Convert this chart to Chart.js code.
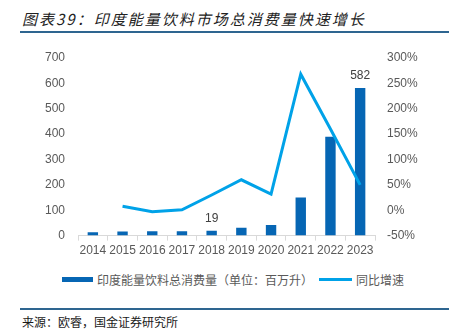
<!DOCTYPE html>
<html lang="zh">
<head>
<meta charset="UTF-8">
<title>印度能量饮料市场总消费量</title>
<script src="https://cdn.jsdelivr.net/npm/chart.js"></script>
<style>
  body { margin: 0; width: 449px; height: 332px; background: #fff; position: relative; overflow: hidden;
         font-family: "Liberation Sans", "Noto Sans CJK SC", sans-serif; text-spacing-trim: space-all; }
  .title { position: absolute; left: 22px; top: 8px; font-size: 15px; font-style: italic; letter-spacing: 2px;
           color: #222; font-family: "Noto Sans CJK SC", sans-serif; white-space: nowrap; }
  .rule { position: absolute; left: 20px; right: 0; height: 1.5px; background: #2e6590; }
  .source { position: absolute; left: 22px; top: 313px; font-size: 12px; color: #1a1a1a;
            font-family: "Noto Sans CJK SC", sans-serif; white-space: nowrap; }
  .wrap { position: absolute; left: 0; top: 36px; width: 449px; height: 231px; }
  .legend { position: absolute; left: 62px; top: 270px; height: 18px; display: flex; align-items: center;
            font-family: "Noto Sans CJK SC", sans-serif; font-size: 12px; color: #595959; white-space: nowrap; }
  .legend .sw { display: inline-block; margin-right: 4px; }
  .legend .txt { margin-right: 6px; }
</style>
</head>
<body>
<div class="title">图表39：印度能量饮料市场总消费量快速增长</div>
<div class="rule" style="top:31px"></div>
<div class="wrap"><canvas id="chart"></canvas></div>
<div class="legend" id="legend"></div>
<div class="rule" style="top:308px"></div>
<div class="source">来源：欧睿，国金证券研究所</div>
<script>
const years = ['2014', '2015', '2016', '2017', '2018', '2019', '2020', '2021', '2022', '2023'];
const consumption = [13, 16, 17, 17, 19, 31, 42, 150, 390, 582];
const growth = [null, 8, -3, 1, 30, 60, 32, 268, 160, 50];
const labelIdx = [4, 9];

const barColor = '#0666b4';
const lineColor = '#00a2e8';

const barLabels = {
  id: 'barLabels',
  afterDatasetsDraw(chart) {
    const meta = chart.getDatasetMeta(0);
    const ctx = chart.ctx;
    ctx.save();
    ctx.font = '12px "Liberation Sans", Arial, sans-serif';
    ctx.fillStyle = '#404040';
    ctx.textAlign = 'center';
    ctx.textBaseline = 'bottom';
    labelIdx.forEach(i => {
      const bar = meta.data[i];
      ctx.fillText(String(consumption[i]), bar.x, bar.y - 6);
    });
    ctx.restore();
  }
};

const chart = new Chart(document.getElementById('chart').getContext('2d'), {
  type: 'bar',
  data: {
    labels: years,
    datasets: [
      {
        type: 'bar',
        label: '印度能量饮料总消费量（单位：百万升）',
        data: consumption,
        backgroundColor: barColor,
        yAxisID: 'y',
        barPercentage: 0.35,
        categoryPercentage: 1,
        order: 2
      },
      {
        type: 'line',
        label: '同比增速',
        data: growth,
        borderColor: lineColor,
        backgroundColor: lineColor,
        borderWidth: 3,
        pointRadius: 0,
        tension: 0,
        yAxisID: 'y1',
        order: 1
      }
    ]
  },
  plugins: [barLabels],
  options: {
    responsive: true,
    maintainAspectRatio: false,
    animation: false,
    layout: { padding: { top: 22, bottom: 6, left: 0, right: 0 } },
    plugins: {
      tooltip: { enabled: false },
      legend: { display: false }
    },
    scales: {
      x: {
        offset: true,
        grid: { display: true, drawOnChartArea: false, color: '#d9d9d9', tickLength: 5, offset: true },
        border: { color: '#d9d9d9' },
        ticks: { color: '#595959', padding: 3, maxRotation: 0, autoSkip: false, font: { size: 12 } }
      },
      y: {
        position: 'left',
        min: 0, max: 700,
        ticks: { stepSize: 100, color: '#595959', padding: 5, font: { size: 12 } },
        grid: { display: false },
        border: { display: false },
        afterFit: s => { s.width = 78; }
      },
      y1: {
        position: 'right',
        min: -50, max: 300,
        ticks: { stepSize: 50, color: '#595959', padding: 4, font: { size: 12 }, callback: v => v + '%' },
        grid: { display: false },
        border: { display: false },
        afterFit: s => { s.width = 74; }
      }
    }
  }
});

// legend built from the chart's datasets
const legend = document.getElementById('legend');
chart.data.datasets.forEach(ds => {
  const sw = document.createElement('span');
  sw.className = 'sw';
  const isLine = ds.type === 'line';
  sw.style.width = (isLine ? 33 : 31) + 'px';
  sw.style.height = (isLine ? 3 : 5) + 'px';
  sw.style.background = isLine ? ds.borderColor : ds.backgroundColor;
  const txt = document.createElement('span');
  txt.className = 'txt';
  txt.textContent = ds.label;
  legend.appendChild(sw);
  legend.appendChild(txt);
});
</script>
</body>
</html>
